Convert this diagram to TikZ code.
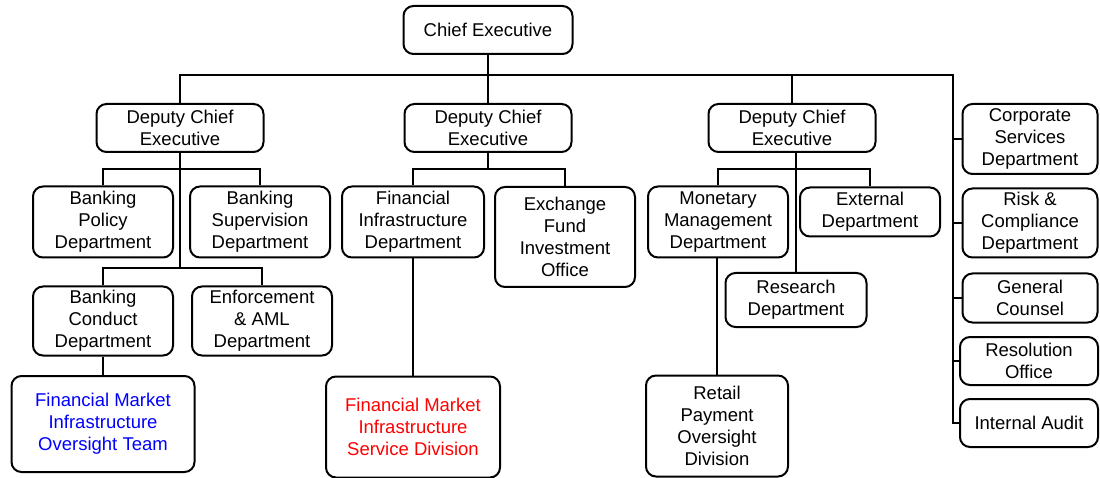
\documentclass[tikz,border=0pt]{standalone}
\usepackage{fontspec}
\usepackage{xcolor}
\setmainfont{Liberation Sans}
\tikzset{
  unit/.style={draw, line width=2pt, rounded corners=10pt, fill=white, align=center, inner sep=0pt,
    font=\fontsize{18.5pt}{22pt}\selectfont},
  link/.style={line width=2pt}
}

\begin{document}
\begin{tikzpicture}[x=1pt, y=-1pt]
                \useasboundingbox (0,0) rectangle (1100,478);

                % top level
                \node[unit, minimum width=169, minimum height=48] (ce) at (488,30) {Chief Executive};
                \node[unit, minimum width=167, minimum height=48] (dce1) at (180,128) {Deputy Chief\\Executive};
                \node[unit, minimum width=167, minimum height=48] (dce2) at (488,128) {Deputy Chief\\Executive};
                \node[unit, minimum width=167, minimum height=48] (dce3) at (792,128) {Deputy Chief\\Executive};

                % right column
                \node[unit, minimum width=135, minimum height=70] (cs) at (1030,139) {Corporate\\Services\\Department};
                \node[unit, minimum width=135, minimum height=69] (rc) at (1030,223) {Risk \&\\Compliance\\Department};
                \node[unit, minimum width=135, minimum height=49] (gc) at (1030,298) {General\\Counsel};
                \node[unit, minimum width=138, minimum height=48] (ro) at (1029,361) {Resolution\\Office};
                \node[unit, minimum width=138, minimum height=48] (ia) at (1029,423) {Internal Audit};

                % first deputy
                \node[unit, minimum width=140, minimum height=71] (bpd) at (103,222) {Banking\\Policy\\Department};
                \node[unit, minimum width=140, minimum height=71] (bsd) at (260,222) {Banking\\Supervision\\Department};
                \node[unit, minimum width=140, minimum height=69] (bcd) at (103,321) {Banking\\Conduct\\Department};
                \node[unit, minimum width=140, minimum height=69] (eam) at (262,321) {Enforcement\\\& AML\\Department};
                \node[unit, minimum width=183, minimum height=96, text=blue] (fmiot) at (103,424) {Financial Market\\Infrastructure\\Oversight Team};

                % second deputy
                \node[unit, minimum width=142, minimum height=71] (fid) at (413,222) {Financial\\Infrastructure\\Department};
                \node[unit, minimum width=140, minimum height=100] (efio) at (565,237) {Exchange\\Fund\\Investment\\Office};
                \node[unit, minimum width=174, minimum height=101, text=red] (fmisd) at (413,427) {Financial Market\\Infrastructure\\Service Division};

                % third deputy
                \node[unit, minimum width=140, minimum height=71] (mmd) at (718,222) {Monetary\\Management\\Department};
                \node[unit, minimum width=140, minimum height=49] (ext) at (870,212) {External\\Department};
                \node[unit, minimum width=141, minimum height=54] (rd) at (796,300) {Research\\Department};
                \node[unit, minimum width=142, minimum height=101] (rpod) at (717,426) {Retail\\Payment\\Oversight\\Division};

                % buses
                \coordinate (top) at (953,75);
                \coordinate (b1) at (180,169);
                \coordinate (b2) at (180,268);
                \coordinate (b3) at (488,169);
                \coordinate (b4) at (796,169);

                \draw[link] (ce) -- (dce2);
                \draw[link] (dce1) |- (top) -- (top |- ia.west) -- (ia.west);
                \draw[link] (dce3) -- (dce3 |- top);
                \draw[link] (top |- cs.west) -- (cs.west);
                \draw[link] (top |- rc.west) -- (rc.west);
                \draw[link] (top |- gc.west) -- (gc.west);
                \draw[link] (top |- ro.west) -- (ro.west);

                \draw[link] (dce1) -- (b2);
                \draw[link] (bpd) |- (b1) -| (bsd);
                \draw[link] (bcd) |- (b2) -| (eam);
                \draw[link] (bcd) -- (fmiot);

                \draw[link] (dce2) -- (b3);
                \draw[link] (fid) |- (b3) -| (efio);
                \draw[link] (fid) -- (fmisd);

                \draw[link] (dce3.south -| rd) -- (rd);
                \draw[link] (mmd) |- (b4) -| (ext);
                \draw[link] (mmd.south -| rpod) -- (rpod);
            \end{tikzpicture}
\end{document}
